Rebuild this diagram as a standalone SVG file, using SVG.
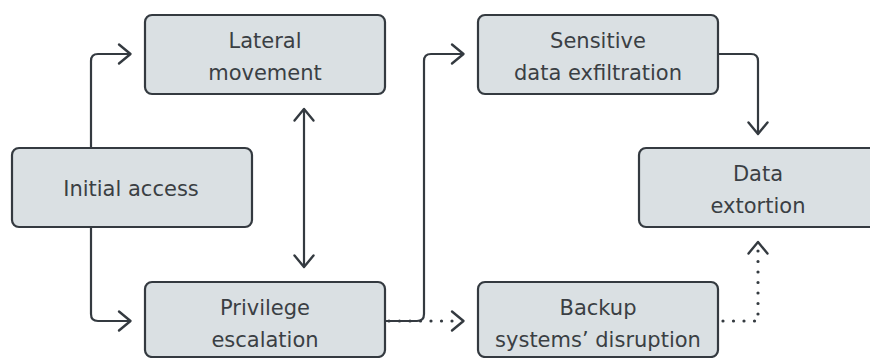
<svg xmlns="http://www.w3.org/2000/svg" width="870" height="358" viewBox="0 0 870 358">
<style>
.box{fill:#dae0e3;stroke:#343a40;stroke-width:2.2}
.lbl{font-family:"DejaVu Sans",sans-serif;font-size:21px;fill:#3a3f44;text-anchor:middle}
.ln{fill:none;stroke:#343a40;stroke-width:2.2;stroke-linejoin:round}
.dot{fill:none;stroke:#343a40;stroke-width:3.2;stroke-linecap:round;stroke-dasharray:0 10.5}
.hd{fill:none;stroke:#343a40;stroke-width:2.4;stroke-linecap:round;stroke-linejoin:round}
</style>
<rect width="870" height="358" fill="#ffffff"/>
<g id="connectors">
<path class="ln" d="M91 148 V61 Q91 54 98 54 H130"/>
<path class="hd" d="M119 44.5 L130.5 54 L119 63.5"/>
<path class="ln" d="M91 227 V314 Q91 321 98 321 H130"/>
<path class="hd" d="M119 311.5 L130.5 321 L119 330.5"/>
<path class="ln" d="M304 110 V266"/>
<path class="hd" d="M294.5 120.5 L304 109 L313.5 120.5"/>
<path class="hd" d="M294.5 255.5 L304 267 L313.5 255.5"/>
<path class="ln" d="M385 321 H417 Q424 321 424 314 V61 Q424 54 431 54 H463"/>
<path class="hd" d="M452 44.5 L463.5 54 L452 63.5"/>
<path class="dot" d="M389 321 H458"/>
<path class="hd" d="M452 311.5 L463.5 321 L452 330.5"/>
<path class="ln" d="M718 54 H751 Q758 54 758 61 V133"/>
<path class="hd" d="M748.5 122.5 L758 134 L767.5 122.5"/>
<path class="dot" d="M723 321 H758 V245"/>
<path class="hd" d="M748.5 253.5 L758 242 L767.5 253.5"/>
</g>
<g id="initial-access">
<rect class="box" x="12" y="148" width="240" height="79" rx="7"/>
<text class="lbl" x="131" y="195.5">Initial access</text>
</g>
<g id="lateral-movement">
<rect class="box" x="145" y="15" width="240" height="79" rx="7"/>
<text class="lbl" x="265" y="48">Lateral</text>
<text class="lbl" x="265" y="80">movement</text>
</g>
<g id="privilege-escalation">
<rect class="box" x="145" y="282" width="240" height="75" rx="7"/>
<text class="lbl" x="265" y="315">Privilege</text>
<text class="lbl" x="265" y="347">escalation</text>
</g>
<g id="sensitive-data-exfiltration">
<rect class="box" x="478" y="15" width="240" height="79" rx="7"/>
<text class="lbl" x="598" y="48">Sensitive</text>
<text class="lbl" x="598" y="80">data exfiltration</text>
</g>
<g id="backup-disruption">
<rect class="box" x="478" y="282" width="240" height="75" rx="7"/>
<text class="lbl" x="598" y="315">Backup</text>
<text class="lbl" x="598" y="347">systems’ disruption</text>
</g>
<g id="data-extortion">
<rect class="box" x="639" y="148" width="240" height="79" rx="7"/>
<text class="lbl" x="758" y="181">Data</text>
<text class="lbl" x="758" y="213">extortion</text>
</g>
</svg>
